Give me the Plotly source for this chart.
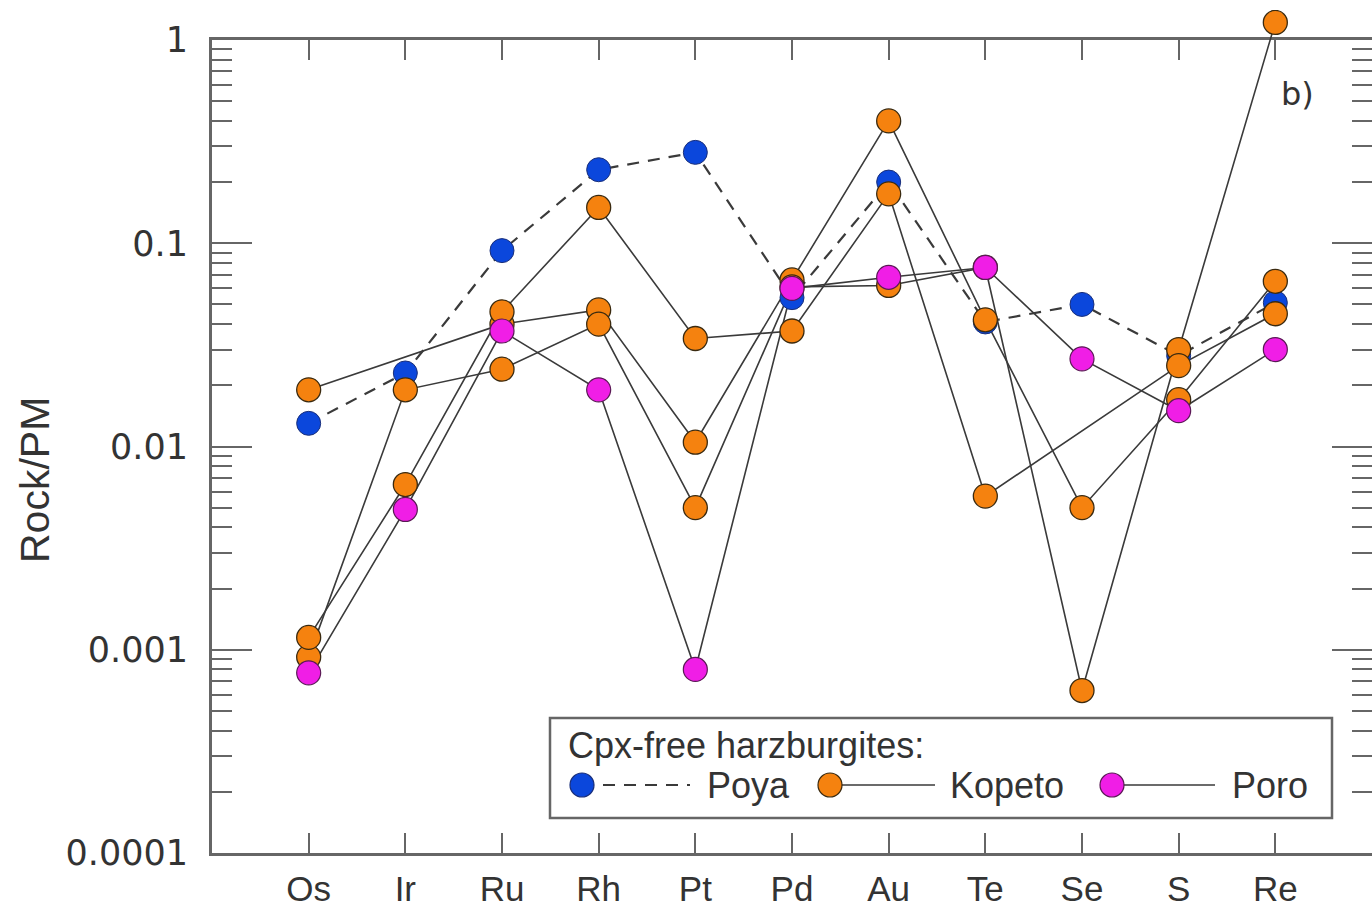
import plotly.graph_objects as go

# ---------------- data ----------------
categories = ["Os", "Ir", "Ru", "Rh", "Pt", "Pd", "Au", "Te", "Se", "S", "Re"]

poya = [0.013, 0.023, 0.092, 0.23, 0.28, 0.054, 0.20, 0.041, 0.050, 0.028, 0.051]

kopeto_1 = [0.019, None, 0.040, 0.047, 0.0105, 0.066, 0.40, 0.042, 0.0050, 0.017, 0.065]
kopeto_2 = [0.00092, 0.019, 0.024, 0.040, 0.0050, 0.061, 0.062, 0.076, 0.00063, 0.030, 1.22]
kopeto_3 = [0.00115, 0.0065, 0.046, 0.15, 0.034, 0.037, 0.175, 0.0057, None, 0.025, 0.045]

poro = [0.00077, 0.0049, 0.037, 0.019, 0.0008, 0.060, 0.068, 0.076, 0.027, 0.015, 0.030]

y_tickvals = [0.0001, 0.001, 0.01, 0.1, 1]
y_ticktext = ["0.0001", "0.001", "0.01", "0.1", "1"]

legend_title = "Cpx-free harzburgites:"
legend_names = ["Poya", "Kopeto", "Poro"]

# ---------------- style ----------------
BLUE = "#0b47dc"
ORANGE = "#f5820f"
MAGENTA = "#f01ee6"
LINE = "#3a3a3a"
AX = "#666666"
TXT = "#333333"
MS = 24

W, H = 1372, 914
L, R, T, B = 212, 0, 10, 61
PW, PH = W - L - R, H - T - B
AXIS_TOP = 40  # pixel row of the visible top border (value 1)
main_frac = (H - B - AXIS_TOP) / PH  # fraction of plot height used by the visible axis
y2_top = -4 + 4 / main_frac          # log10 upper limit of the data axis (same scale)


def px(xp):
    return (xp - L) / PW


def py(yp):
    return (H - B - yp) / PH


fig = go.Figure()
kopeto = [kopeto_1, kopeto_2, kopeto_3]

# Poya dashed line on the visible axis (lowest layer)
fig.add_trace(go.Scatter(x=categories, y=poya, mode="lines", yaxis="y",
                         line=dict(color=LINE, width=2.2, dash="12px,9px"),
                         showlegend=False, hoverinfo="skip"))

# the rest on an identical-scale axis that extends above 1 (for the Re outlier)
for s in kopeto + [poro]:
    fig.add_trace(go.Scatter(x=categories, y=s, mode="lines", connectgaps=True, yaxis="y2",
                             line=dict(color=LINE, width=1.6), showlegend=False,
                             hoverinfo="skip"))

fig.add_trace(go.Scatter(x=categories, y=poya, mode="markers", yaxis="y2",
                         marker=dict(size=MS, color=BLUE,
                                     line=dict(color="#1a2f7a", width=1.0)),
                         showlegend=False))
for s in kopeto:
    fig.add_trace(go.Scatter(x=categories, y=s, mode="markers", yaxis="y2",
                             marker=dict(size=MS, color=ORANGE,
                                         line=dict(color="#3a2a10", width=1.3)),
                             showlegend=False))
fig.add_trace(go.Scatter(x=categories, y=poro, mode="markers", yaxis="y2",
                         marker=dict(size=MS, color=MAGENTA,
                                     line=dict(color="#5a1a55", width=1.2)),
                         showlegend=False))

# ---------------- layout ----------------
minor_vals = [m * 10 ** e for e in range(-4, 0) for m in range(2, 10)]

fig.update_layout(
    width=W, height=H,
    margin=dict(l=L, r=R, t=T, b=B, pad=0, autoexpand=False),
    plot_bgcolor="rgba(0,0,0,0)", paper_bgcolor="white",
    showlegend=False,
    font=dict(family="Liberation Sans, Arial, sans-serif", color=TXT, size=34),
    xaxis=dict(
        type="category", categoryorder="array", categoryarray=categories,
        range=[-1, 11], showgrid=False, zeroline=False, anchor="y", automargin=False,
        showline=True, linecolor=AX, linewidth=3, mirror="ticks",
        ticks="inside", ticklen=20, tickwidth=2, tickcolor=AX,
        tickfont=dict(family="Liberation Sans, Arial, sans-serif", size=35, color=TXT),
        ticklabelstandoff=3,
    ),
    yaxis=dict(
        type="log", range=[-4, 0], domain=[0, main_frac], anchor="x", automargin=False,
        showgrid=False, zeroline=False,
        showline=True, linecolor=AX, linewidth=3, mirror="ticks",
        ticks="inside", ticklen=40, tickwidth=2, tickcolor=AX,
        tickmode="array", tickvals=y_tickvals, ticktext=y_ticktext,
        tickfont=dict(family="DejaVu Sans, Verdana, sans-serif", size=35, color=TXT),
        ticklabelstandoff=14,
        minor=dict(ticks="inside", ticklen=20, tickwidth=2, tickcolor=AX,
                   tickmode="array", tickvals=minor_vals, showgrid=False),
    ),
    yaxis2=dict(
        type="log", range=[-4, y2_top], domain=[0, 1], anchor="x", automargin=False,
        visible=False, showgrid=False, zeroline=False,
    ),
)

# y-axis title
fig.add_annotation(xref="paper", yref="paper", x=px(35), y=py(480),
                   text="Rock/PM", textangle=-90, showarrow=False,
                   font=dict(size=41, color=TXT), xanchor="center", yanchor="middle")

# panel label
fig.add_annotation(xref="paper", yref="paper", x=px(1297), y=py(94),
                   text="b)", showarrow=False,
                   font=dict(family="DejaVu Sans, Verdana, sans-serif", size=32, color=TXT),
                   xanchor="center", yanchor="middle")

# ---------------- custom legend ----------------
fig.add_shape(type="rect", xref="paper", yref="paper",
              x0=px(550), x1=px(1332), y0=py(818), y1=py(718),
              line=dict(color=AX, width=2.5), fillcolor="white", layer="above")
fig.add_annotation(xref="paper", yref="paper", x=px(566), y=py(745),
                   text=legend_title, showarrow=False, xanchor="left", yanchor="middle",
                   font=dict(size=36, color=TXT))

leg_items = [
    (legend_names[0], BLUE, "#1a2f7a", 582, 690, 705, "12px,9px", 2.2),
    (legend_names[1], ORANGE, "#3a2a10", 830, 935, 948, "solid", 1.6),
    (legend_names[2], MAGENTA, "#5a1a55", 1112, 1215, 1230, "solid", 1.6),
]
ROW = 785
for name, col, edge, mx, lx1, tx, dash, lw in leg_items:
    fig.add_shape(type="line", xref="paper", yref="paper",
                  x0=px(mx), x1=px(lx1), y0=py(ROW), y1=py(ROW),
                  line=dict(color=LINE, width=lw, dash=dash), layer="above")
    fig.add_shape(type="circle", xref="paper", yref="paper",
                  xsizemode="pixel", ysizemode="pixel",
                  xanchor=px(mx), yanchor=py(ROW),
                  x0=-MS / 2, x1=MS / 2, y0=-MS / 2, y1=MS / 2,
                  fillcolor=col, line=dict(color=edge, width=1.2), layer="above")
    fig.add_annotation(xref="paper", yref="paper", x=px(tx), y=py(ROW),
                       text=name, showarrow=False, xanchor="left", yanchor="middle",
                       font=dict(size=36, color=TXT))

fig.write_html("out.html")
